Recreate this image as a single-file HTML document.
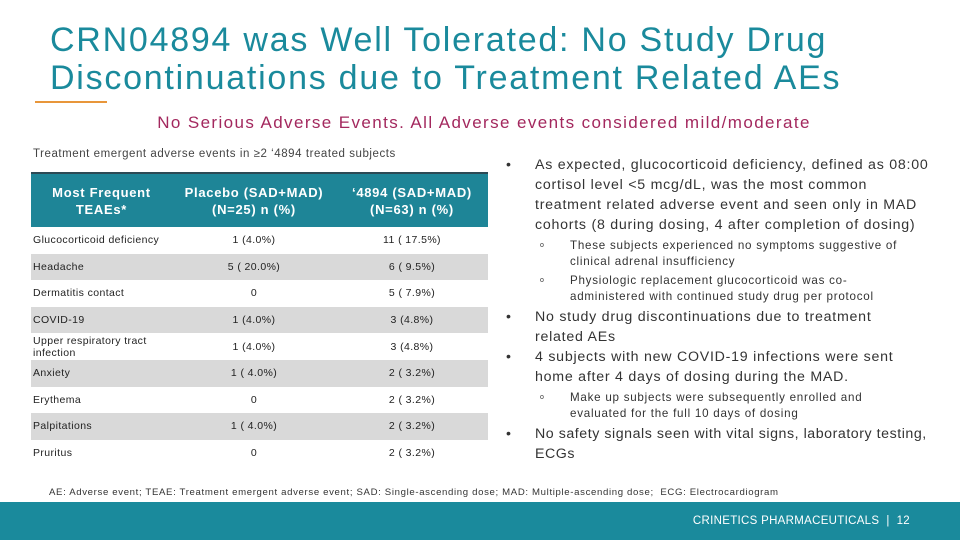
<!DOCTYPE html>
<html><head><meta charset="utf-8">
<style>
body{margin:0;width:960px;height:540px;position:relative;overflow:hidden;background:#fff;font-family:"Liberation Sans",sans-serif;}
.abs{position:absolute}
#title{left:50px;top:21px;font-size:34px;line-height:38px;color:#1a8a9c;letter-spacing:1.75px}
#rule{left:35px;top:101px;width:72px;height:2px;background:#e8963a}
#sub{left:0;width:968px;top:113px;text-align:center;font-size:17px;color:#a3285e;letter-spacing:1.4px}
#cap{left:33px;top:148px;font-size:11.5px;color:#444;letter-spacing:0.55px}
table{position:absolute;left:31px;top:172px;width:457px;border-collapse:collapse;font-size:10.5px;color:#222;letter-spacing:0.4px}
th{background:#1e8597;color:#fff;font-size:13px;font-weight:bold;height:53px;border-top:2px solid #2c4a55;line-height:17px;padding:0;letter-spacing:0.7px}
td{height:26.6px;padding:0;text-align:center}
td:first-child{text-align:left;padding-left:2px;line-height:12px}
tr.g td{background:#d9d9d9}
#bul{left:506px;top:155px;width:432px;font-size:14.2px;line-height:20px;color:#333;letter-spacing:0.75px}
.b{position:relative;padding-left:29px}
.s+.b{margin-top:2px}
.b:before{content:"•";position:absolute;left:0}
.s{position:relative;padding-left:64px;padding-right:30px;font-size:11.6px;line-height:16px;letter-spacing:0.75px;margin-top:3px}
.s:before{content:"o";position:absolute;left:34px;font-size:7px}
.nw{white-space:nowrap}
#foot{left:0;top:502px;width:960px;height:38px;background:#1a8a9c}
#ftxt{right:50px;top:515px;color:#fff;font-size:11.5px;letter-spacing:0.3px}
#abbr{left:49px;top:487px;font-size:9.6px;color:#333;letter-spacing:0.65px}
</style></head><body>
<div class="abs" id="title">CRN04894 was Well Tolerated: No Study Drug<br>Discontinuations due to Treatment Related AEs</div>
<div class="abs" id="rule"></div>
<div class="abs" id="sub">No Serious Adverse Events. All Adverse events considered mild/moderate</div>
<div class="abs" id="cap">Treatment emergent adverse events in ≥2 ‘4894 treated subjects</div>
<table>
<tr><th style="width:141px">Most Frequent<br>TEAEs*</th><th style="width:164px">Placebo (SAD+MAD)<br>(N=25) n (%)</th><th>‘4894 (SAD+MAD)<br>(N=63) n (%)</th></tr>
<tr><td>Glucocorticoid deficiency</td><td>1 (4.0%)</td><td>11 ( 17.5%)</td></tr>
<tr class="g"><td>Headache</td><td>5 ( 20.0%)</td><td>6 ( 9.5%)</td></tr>
<tr><td>Dermatitis contact</td><td>0</td><td>5 ( 7.9%)</td></tr>
<tr class="g"><td>COVID-19</td><td>1 (4.0%)</td><td>3 (4.8%)</td></tr>
<tr><td>Upper respiratory tract infection</td><td>1 (4.0%)</td><td>3 (4.8%)</td></tr>
<tr class="g"><td>Anxiety</td><td>1 ( 4.0%)</td><td>2 ( 3.2%)</td></tr>
<tr><td>Erythema</td><td>0</td><td>2 ( 3.2%)</td></tr>
<tr class="g"><td>Palpitations</td><td>1 ( 4.0%)</td><td>2 ( 3.2%)</td></tr>
<tr><td>Pruritus</td><td>0</td><td>2 ( 3.2%)</td></tr>
</table>
<div class="abs" id="bul">
<div class="b">As expected, glucocorticoid deficiency, defined as 08:00 cortisol level &lt;5 mcg/dL, was the most common treatment related adverse event and seen only in MAD cohorts (8 during dosing, 4 after completion of dosing)</div>
<div class="s">These subjects experienced no symptoms suggestive of clinical adrenal insufficiency</div>
<div class="s nw">Physiologic replacement glucocorticoid was co-<br>administered with continued study drug per protocol</div>
<div class="b nw">No study drug discontinuations due to treatment<br>related AEs</div>
<div class="b nw">4 subjects with new COVID-19 infections were sent<br>home after 4 days of dosing during the MAD.</div>
<div class="s nw">Make up subjects were subsequently enrolled and<br>evaluated for the full 10 days of dosing</div>
<div class="b nw" style="letter-spacing:0.55px">No safety signals seen with vital signs, laboratory testing,<br>ECGs</div>
</div>
<div class="abs" id="abbr">AE: Adverse event; TEAE: Treatment emergent adverse event; SAD: Single-ascending dose; MAD: Multiple-ascending dose;&nbsp; ECG: Electrocardiogram</div>
<div class="abs" id="foot"></div>
<div class="abs" id="ftxt">CRINETICS PHARMACEUTICALS &nbsp;|&nbsp; 12</div>
</body></html>
